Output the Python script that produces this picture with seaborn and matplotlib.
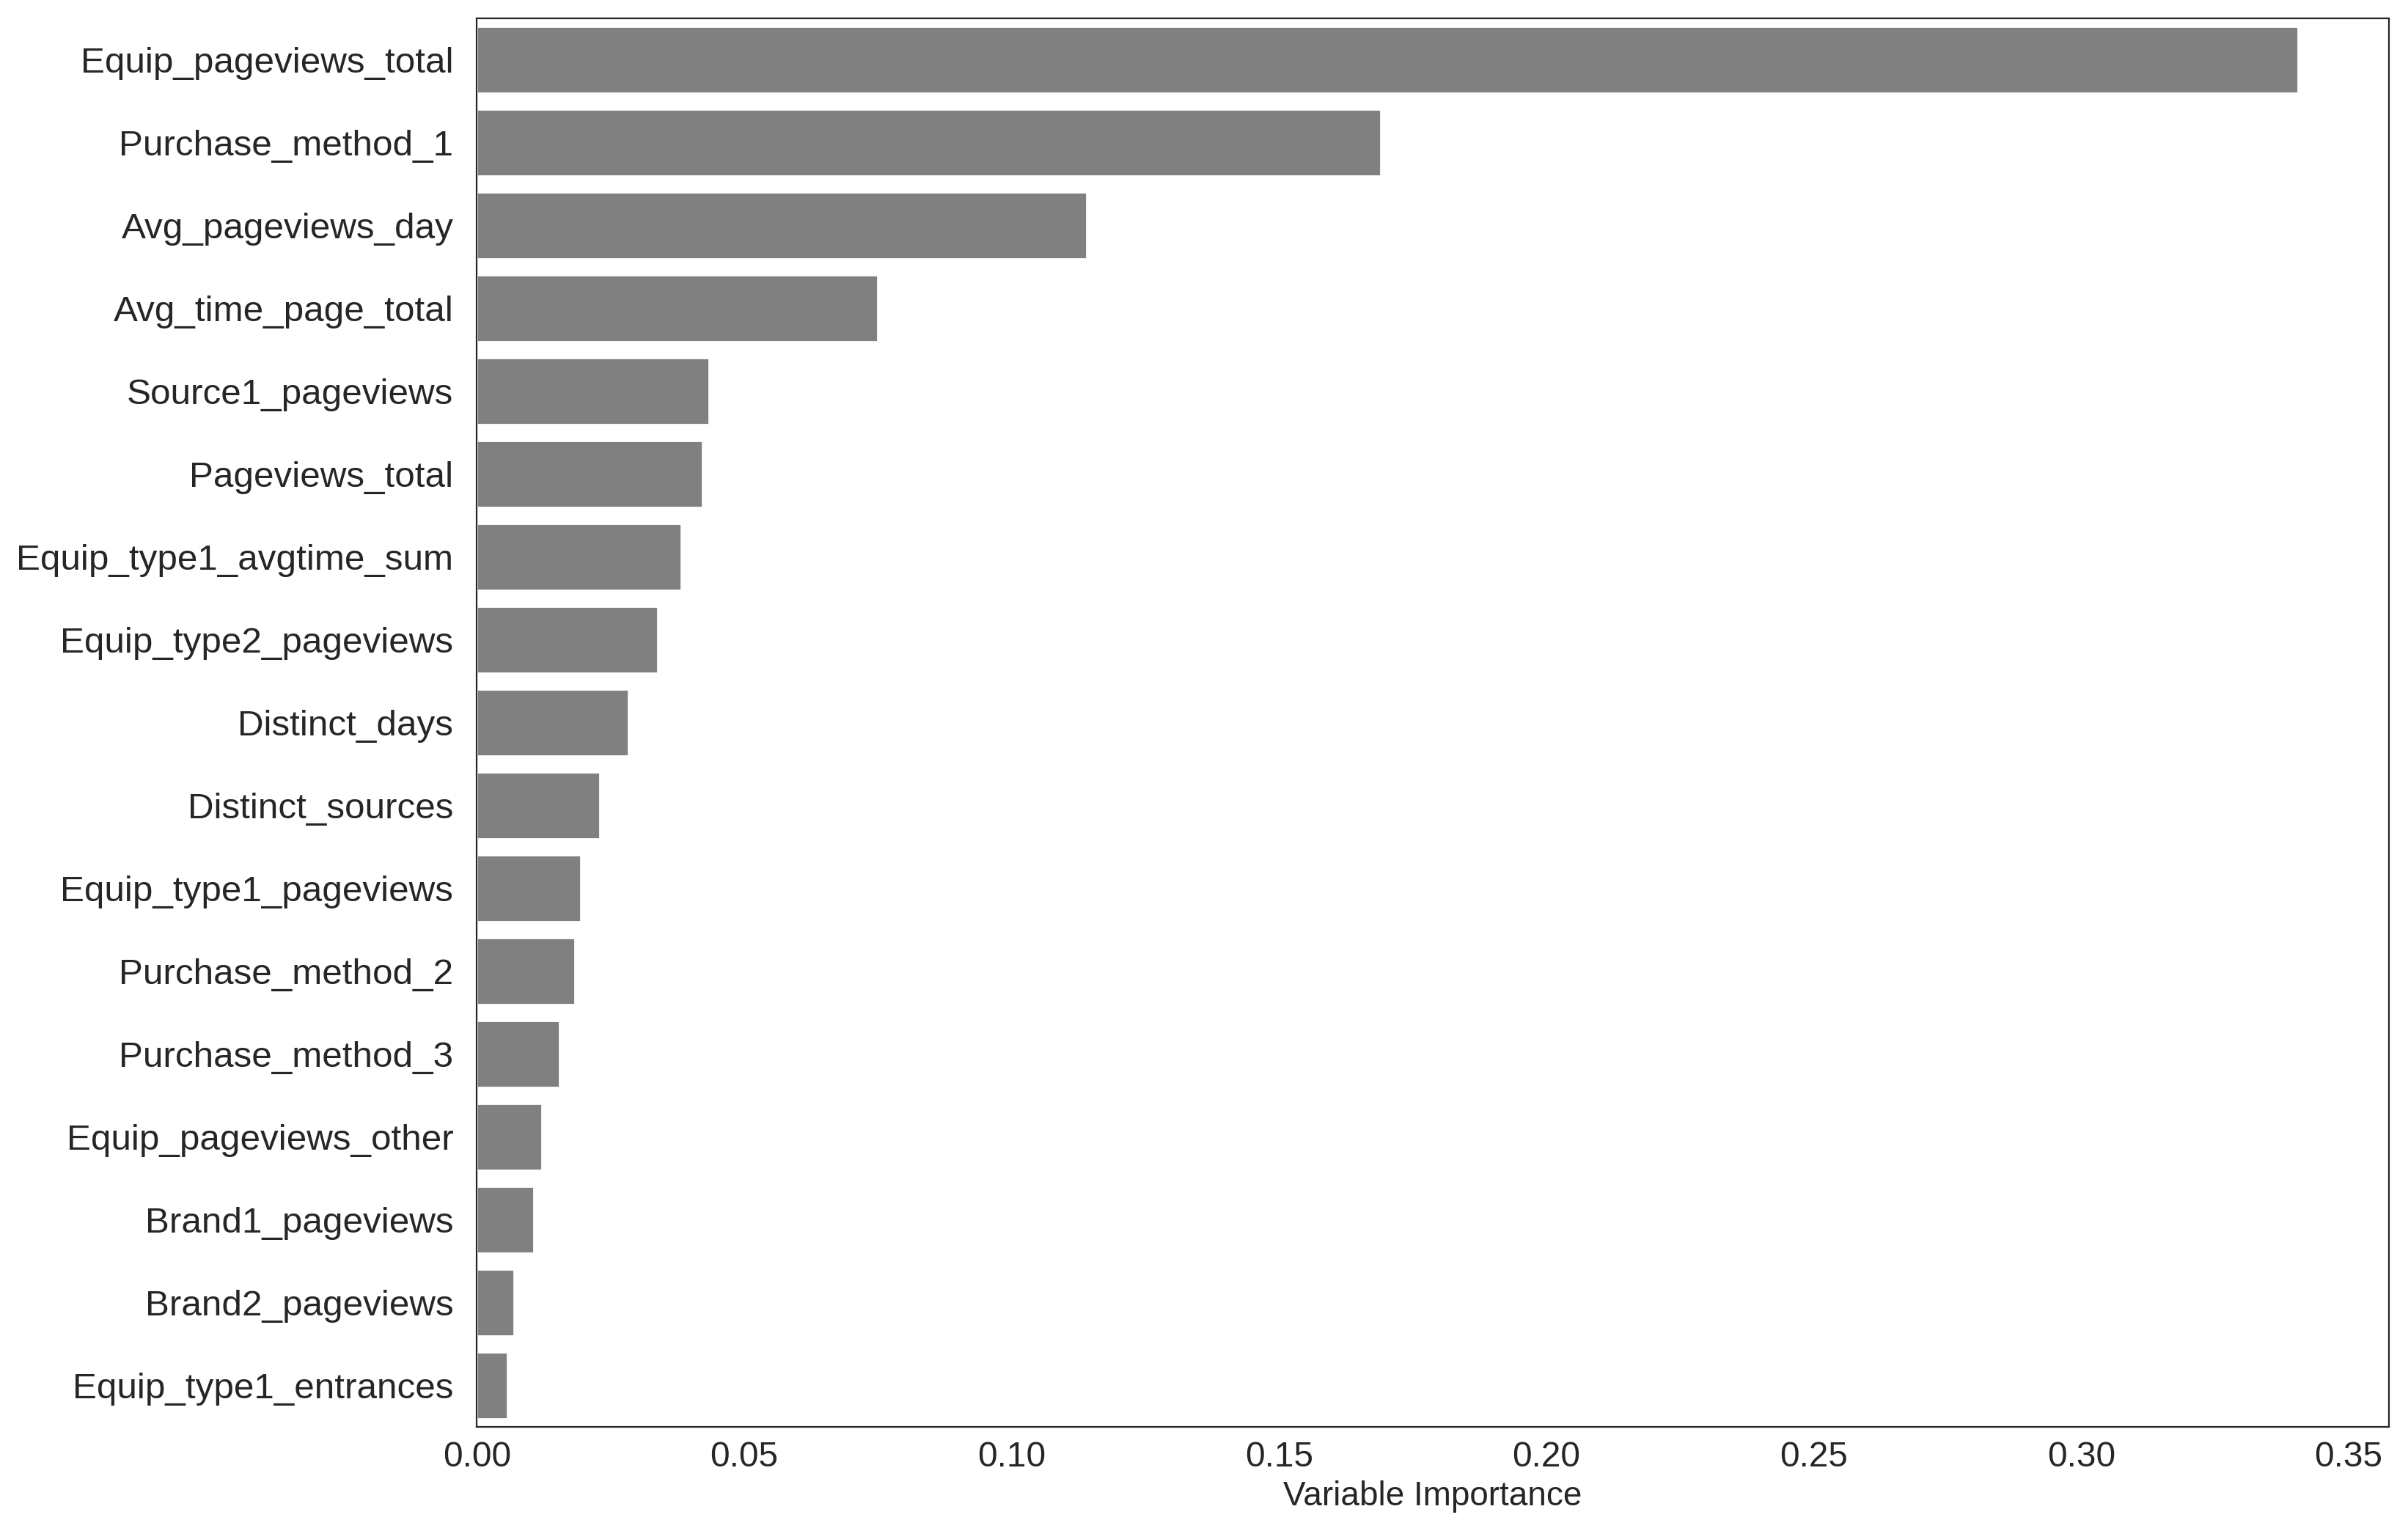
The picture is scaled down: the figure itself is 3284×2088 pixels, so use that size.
import pandas as pd
import seaborn as sns
import matplotlib.pyplot as plt

# Valores
features = [
    "Equip_pageviews_total", "Purchase_method_1", "Avg_pageviews_day",
    "Avg_time_page_total", "Source1_pageviews", "Pageviews_total",
    "Equip_type1_avgtime_sum", "Equip_type2_pageviews", "Distinct_days",
    "Distinct_sources", "Equip_type1_pageviews", "Purchase_method_2",
    "Purchase_method_3", "Equip_pageviews_other", "Brand1_pageviews",
    "Brand2_pageviews", "Equip_type1_entrances",
]
importance = [
    0.3405, 0.1690, 0.1140, 0.0750, 0.0434, 0.0422,
    0.0382, 0.0339, 0.0283, 0.0230, 0.0194, 0.0183,
    0.0154, 0.0122, 0.0106, 0.0070, 0.0057,
]

df = pd.DataFrame({"feature": features, "importance": importance})

sns.set_style("white")
plt.rcParams["font.family"] = ["Liberation Sans", "DejaVu Sans"]

fig, ax = plt.subplots(figsize=(16.42, 10.44), dpi=200)
fig.subplots_adjust(left=0.198, right=0.992, top=0.988, bottom=0.068)

sns.barplot(data=df, x="importance", y="feature", color="grey", ax=ax)

ax.set_ylabel("")
ax.set_xlabel("Variable Importance", fontsize=16.5, labelpad=3)
ax.tick_params(axis="x", labelsize=17.2)
ax.tick_params(axis="y", labelsize=17.8, pad=8)

fig.savefig("out.png", dpi=200)
